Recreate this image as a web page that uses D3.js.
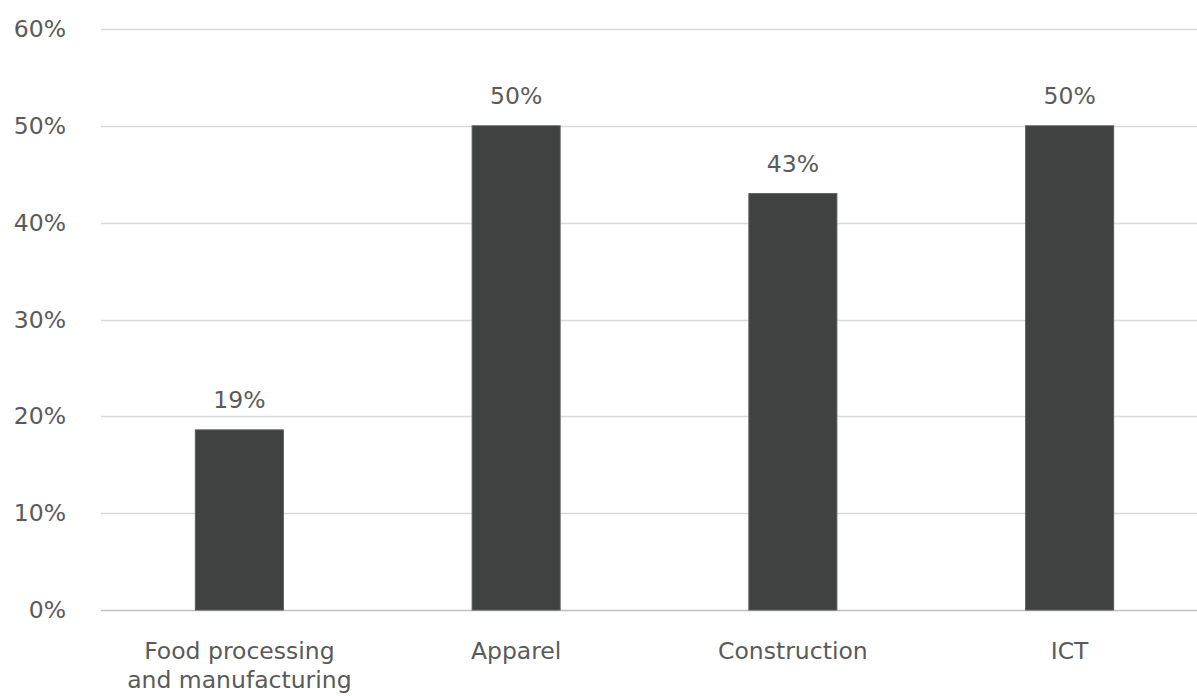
<!DOCTYPE html>
<html>
<head>
<meta charset="utf-8">
<script src="https://cdn.jsdelivr.net/npm/d3@7"></script>
<style>
  html, body { margin: 0; padding: 0; background: #ffffff; }
  svg { display: block; }
  text { font-family: "DejaVu Sans", sans-serif; fill: #5a5a5a; }
</style>
</head>
<body>
<svg id="chart" width="1197" height="696"></svg>
<script>
// Share of firms by sector
const categories = [["Food processing", "and manufacturing"], ["Apparel"], ["Construction"], ["ICT"]];
const values = [0.186, 0.50, 0.43, 0.50];
const yTicks = [0, 0.1, 0.2, 0.3, 0.4, 0.5, 0.6];

const svg = d3.select("#chart");
const W = 1197;
const FONT = "23.5px";
const plot = { left: 101, right: 1208, top: 29, bottom: 610 };

const keys = categories.map(c => c.join(" "));

const x = d3.scaleBand()
  .domain(keys)
  .range([plot.left, plot.right])
  .paddingInner(0.682)
  .paddingOuter(0.341);

const y = d3.scaleLinear()
  .domain([0, 0.6])
  .range([plot.bottom, plot.top]);

const pct = d3.format(".0%");

// horizontal gridlines
svg.append("g")
  .selectAll("line")
  .data(yTicks)
  .join("line")
  .attr("x1", plot.left)
  .attr("x2", W)
  .attr("y1", d => Math.round(y(d)) + 0.5)
  .attr("y2", d => Math.round(y(d)) + 0.5)
  .attr("stroke", d => d === 0 ? "#bfbfbf" : "#d9d9d9")
  .attr("stroke-width", 1.3);

// y-axis tick labels
const yAxis = d3.axisLeft(y)
  .tickValues(yTicks)
  .tickFormat(pct)
  .tickSize(0)
  .tickPadding(0);

svg.append("g")
  .attr("transform", `translate(66,0)`)
  .call(yAxis)
  .call(g => g.select(".domain").remove())
  .selectAll("text")
  .style("font-size", FONT)
  .style("font-family", "'DejaVu Sans', sans-serif")
  .attr("fill", "#5a5a5a");

// bars
svg.append("g")
  .selectAll("rect")
  .data(values)
  .join("rect")
  .attr("x", (d, i) => x(keys[i]))
  .attr("y", d => y(d))
  .attr("width", x.bandwidth())
  .attr("height", d => y(0) - y(d))
  .attr("fill", "#404241")
  .attr("stroke", "#575958")
  .attr("stroke-width", 1);

// value labels above bars
svg.append("g")
  .selectAll("text")
  .data(values)
  .join("text")
  .attr("x", (d, i) => x(keys[i]) + x.bandwidth() / 2)
  .attr("y", d => y(d) - 22)
  .attr("text-anchor", "middle")
  .style("font-size", FONT)
  .text(d => pct(d));

// category labels
const cat = svg.append("g")
  .selectAll("text")
  .data(categories)
  .join("text")
  .attr("x", (d, i) => x(keys[i]) + x.bandwidth() / 2)
  .attr("y", 659)
  .attr("text-anchor", "middle")
  .style("font-size", FONT);

cat.selectAll("tspan")
  .data(d => d)
  .join("tspan")
  .attr("x", function () { return d3.select(this.parentNode).attr("x"); })
  .attr("dy", (d, i) => i === 0 ? 0 : 29)
  .text(d => d);
</script>
</body>
</html>
